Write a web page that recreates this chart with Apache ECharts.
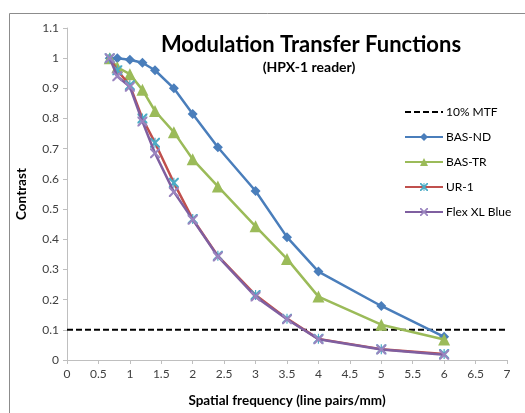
<!DOCTYPE html>
<html>
<head>
<meta charset="utf-8">
<script src="https://cdn.jsdelivr.net/npm/echarts@6/dist/echarts.min.js"></script>
<style>
  html, body { margin: 0; padding: 0; background: #fff; }
  #chart { width: 525px; height: 413px; }
</style>
</head>
<body>
<div id="chart"></div>
<script>
// spatial frequency (lp/mm) sample points
const freqs = [0.68, 0.8, 1.0, 1.2, 1.4, 1.7, 2.0, 2.4, 3.0, 3.5, 4.0, 5.0, 6.0];

const basND = [1.0, 1.0, 0.995, 0.985, 0.96, 0.9, 0.815, 0.705, 0.56, 0.407, 0.293, 0.179, 0.077];
const basTR = [1.0, 0.97, 0.947, 0.895, 0.825, 0.755, 0.665, 0.575, 0.443, 0.335, 0.21, 0.117, 0.068];
const ur1   = [1.0, 0.96, 0.91, 0.80, 0.72, 0.587, 0.467, 0.345, 0.215, 0.137, 0.07, 0.036, 0.02];
const flex  = [1.0, 0.94, 0.905, 0.79, 0.685, 0.557, 0.465, 0.343, 0.21, 0.135, 0.069, 0.035, 0.017];

const mtfLine = [[0, 0.1], [7, 0.1]];

const xTicks = [0, 0.5, 1, 1.5, 2, 2.5, 3, 3.5, 4, 4.5, 5, 5.5, 6, 6.5, 7];

const pts = vals => freqs.map((f, i) => [f, vals[i]]);

const xMark = 'path://M0,0L3,0L10,7L17,0L20,0L20,3L13,10L20,17L20,20L17,20L10,13L3,20L0,20L0,17L7,10L0,3Z';
const starMark = xMark + 'M8.8,0L11.2,0L11.2,20L8.8,20Z';

const font = 'Lato, "Open Sans", sans-serif';

const chart = echarts.init(document.getElementById('chart'));
chart.setOption({
    animation: false,
    backgroundColor: '#fff',
    textStyle: { fontFamily: font },
    title: [{
        text: 'Modulation Transfer Functions',
        left: 306, top: 29, textAlign: 'center',
        textStyle: { fontSize: 22, fontWeight: 'bold', color: '#000', fontFamily: font }
    }, {
        text: '(HPX-1 reader)',
        left: 304, top: 55, textAlign: 'center',
        textStyle: { fontSize: 14, fontWeight: 'bold', color: '#000', fontFamily: font }
    }],
    graphic: [{
        type: 'rect',
        shape: { x: 9.5, y: 13.5, width: 530, height: 420 },
        style: { fill: 'none', stroke: '#8c8c8c', lineWidth: 1 },
        silent: true
    }],
    legend: {
        orient: 'vertical',
        left: 399, top: 101,
        itemWidth: 38, itemHeight: 10,
        itemGap: 13,
        data: [
            { name: '10% MTF', itemStyle: { opacity: 0 } },
            'BAS-ND', 'BAS-TR', 'UR-1', 'Flex XL Blue'
        ],
        textStyle: { fontSize: 12, color: '#000', fontFamily: font, padding: [0, 0, 0, -2] }
    },
    grid: { left: 67, right: 18, top: 28, bottom: 52 },
    xAxis: {
        type: 'value', min: 0, max: 7, interval: 0.5,
        name: 'Spatial frequency (line pairs/mm)',
        nameLocation: 'middle', nameGap: 34,
        nameTextStyle: { fontSize: 13.5, fontWeight: 'bold', color: '#000' },
        axisLine: { lineStyle: { color: '#bfbfbf', width: 1 } },
        axisTick: { show: true, length: 4, lineStyle: { color: '#bfbfbf' } },
        axisLabel: { fontSize: 12, color: '#404040', margin: 8,
            formatter: v => xTicks.includes(v) ? String(v) : '' },
        splitLine: { show: false }
    },
    yAxis: {
        type: 'value', min: 0, max: 1.1, interval: 0.1,
        name: 'Contrast',
        nameLocation: 'middle', nameGap: 38, nameRotate: 90,
        nameTextStyle: { fontSize: 13.5, fontWeight: 'bold', color: '#000' },
        axisLine: { show: true, lineStyle: { color: '#bfbfbf', width: 1 } },
        axisTick: { show: true, length: 4, lineStyle: { color: '#bfbfbf' } },
        axisLabel: { fontSize: 12, color: '#404040', margin: 8,
            formatter: v => String(Math.round(v * 10) / 10) },
        splitLine: { show: false }
    },
    series: [{
        name: '10% MTF',
        type: 'line',
        data: mtfLine,
        symbol: 'none',
        lineStyle: { color: '#000', width: 2, type: [6, 3] },
        itemStyle: { color: '#000' },
        z: 1
    }, {
        name: 'BAS-ND',
        type: 'line',
        data: pts(basND),
        symbol: 'diamond', symbolSize: 10,
        lineStyle: { color: '#4a7ebb', width: 2.5 },
        itemStyle: { color: '#4a7ebb' },
        z: 2
    }, {
        name: 'BAS-TR',
        type: 'line',
        data: pts(basTR),
        symbol: 'triangle', symbolSize: 12,
        lineStyle: { color: '#9bbb59', width: 2.5 },
        itemStyle: { color: '#9bbb59' },
        z: 3
    }, {
        name: 'UR-1',
        type: 'line',
        data: pts(ur1),
        symbol: starMark, symbolSize: 10,
        lineStyle: { color: '#c0504d', width: 2.5 },
        itemStyle: { color: '#4bacc6' },
        z: 4
    }, {
        name: 'Flex XL Blue',
        type: 'line',
        data: pts(flex),
        symbol: xMark, symbolSize: 10,
        lineStyle: { color: '#7f5fa0', width: 2.5 },
        itemStyle: { color: '#9a84bf' },
        z: 5
    }]
});
</script>
</body>
</html>
